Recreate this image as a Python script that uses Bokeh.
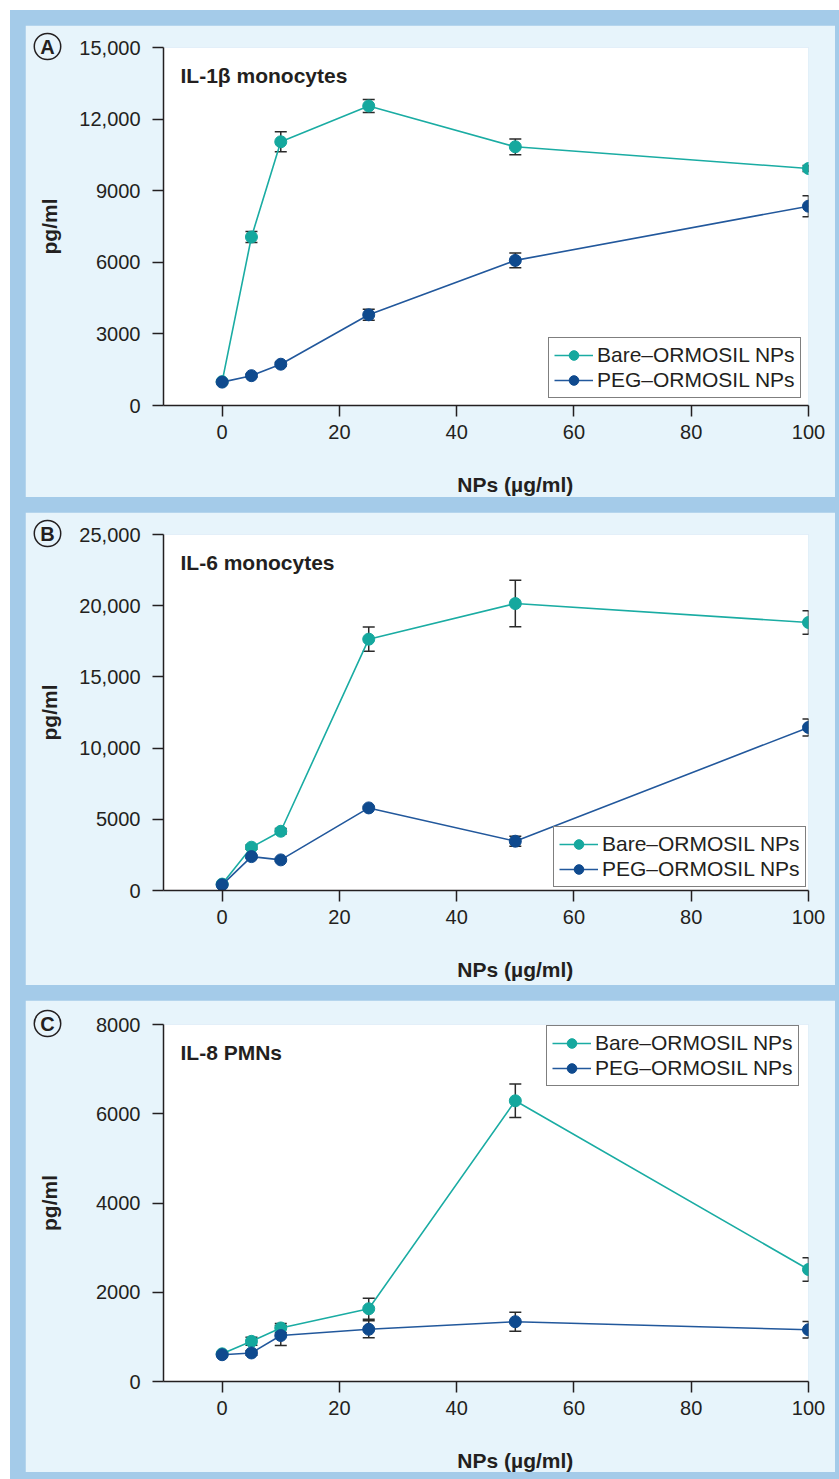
from bokeh.plotting import figure
from bokeh.models import Range1d, FixedTicker, Label, Legend, LegendItem, Whisker, ColumnDataSource, TeeHead
from bokeh.layouts import column
from bokeh.embed import file_html
from bokeh.resources import INLINE

# ---------------- data ----------------
conc = [0, 5, 10, 25, 50, 100]

il1b_bare = [1000, 7060, 11050, 12550, 10840, 9930]
il1b_bare_err = [50, 230, 420, 270, 330, 130]
il1b_peg = [980, 1250, 1730, 3800, 6080, 8350]
il1b_peg_err = [40, 60, 80, 230, 310, 440]

il6_bare = [450, 3040, 4160, 17650, 20150, 18820]
il6_bare_err = [50, 150, 200, 850, 1630, 820]
il6_peg = [400, 2380, 2150, 5800, 3460, 11450]
il6_peg_err = [50, 100, 100, 100, 350, 600]

il8_bare = [620, 900, 1200, 1630, 6290, 2510]
il8_bare_err = [30, 90, 100, 235, 375, 262]
il8_peg = [600, 640, 1030, 1170, 1340, 1160]
il8_peg_err = [30, 50, 225, 190, 213, 187]

series_names = ["Bare\u2013ORMOSIL NPs", "PEG\u2013ORMOSIL NPs"]
x_ticks = [0, 20, 40, 60, 80, 100]
il1b_ticks = [0, 3000, 6000, 9000, 12000, 15000]
il1b_tick_labels = ["0", "3000", "6000", "9000", "12,000", "15,000"]
il6_ticks = [0, 5000, 10000, 15000, 20000, 25000]
il6_tick_labels = ["0", "5000", "10,000", "15,000", "20,000", "25,000"]
il8_ticks = [0, 2000, 4000, 6000, 8000]
il8_tick_labels = ["0", "2000", "4000", "6000", "8000"]

# ---------------- style ----------------
FONT = "Liberation Sans"
TXT = "#231f20"
LIGHT = "#e7f4fb"
DARK = "#a4cbe9"
TEAL_M = "#15a89e"
TEAL_L = "#1aaca3"
BLUE_M = "#0f4a8e"
BLUE_L = "#22589c"
ERR = "#2a2a2a"

FIG_W = 810
FRAME_L = 138   # px from panel left
FRAME_R = 27
XMIN, XMAX = -10, 100
FRAME_W = FIG_W - FRAME_L - FRAME_R
TICK_FS = 20


def label_width(s, fs=TICK_FS):
    return sum(0.278 if c == "," else 0.556 for c in s) * fs


def make_panel(letter, title, height, top, bottom, ymax, yticks, ylabels,
               bare, bare_err, peg, peg_err, legend_loc):
    p = figure(width=FIG_W, height=height, x_range=Range1d(XMIN, XMAX),
               y_range=Range1d(0, ymax), output_backend="svg", toolbar_location=None,
               min_border_left=FRAME_L, min_border_right=FRAME_R,
               min_border_top=top, min_border_bottom=bottom,
               background_fill_color="white", border_fill_color=LIGHT,
               outline_line_color=None)
    p.grid.visible = False
    frame_h = height - top - bottom

    def dx(px):  # px offset from frame left -> data x
        return XMIN + px * (XMAX - XMIN) / FRAME_W

    def dy(px):  # px offset from frame bottom (up positive) -> data y
        return px * ymax / frame_h

    for ax in (p.xaxis[0], p.yaxis[0]):
        ax.axis_line_color = TXT
        ax.axis_line_width = 1.5
        ax.major_tick_line_color = TXT
        ax.major_tick_line_width = 1.5
        ax.major_tick_in = 0
        ax.major_tick_out = 11
        ax.minor_tick_line_color = None
        ax.major_label_text_font = FONT
        ax.major_label_text_font_size = f"{TICK_FS}px"
        ax.major_label_text_color = TXT
        ax.axis_label_text_font = FONT
        ax.axis_label_text_font_style = "bold"
        ax.axis_label_text_font_size = "21px"
        ax.axis_label_text_color = TXT
    p.xaxis.ticker = FixedTicker(ticks=x_ticks)
    p.xaxis.major_label_standoff = 8
    p.yaxis.ticker = FixedTicker(ticks=yticks)
    p.yaxis.major_label_overrides = {t: l for t, l in zip(yticks, ylabels)}
    p.yaxis.major_label_standoff = 12
    # y axis label placed so that its centre sits ~27 px from the panel's left edge
    wmax = max(label_width(s) for s in ylabels)
    p.yaxis.axis_label = "pg/ml"
    p.yaxis.axis_label_standoff = int(round(FRAME_L - 11 - 12 - wmax - 12 - 27))

    renderers = []
    for ys, es, lc, mc in ((bare, bare_err, TEAL_L, TEAL_M), (peg, peg_err, BLUE_L, BLUE_M)):
        src = ColumnDataSource(dict(x=conc, y=ys,
                                    lo=[a - b for a, b in zip(ys, es)],
                                    hi=[a + b for a, b in zip(ys, es)]))
        ln = p.line("x", "y", source=src, line_color=lc, line_width=1.6)
        w = Whisker(base="x", lower="lo", upper="hi", source=src,
                    line_color=ERR, line_width=1.5,
                    upper_head=TeeHead(size=12, line_color=ERR, line_width=1.5),
                    lower_head=TeeHead(size=12, line_color=ERR, line_width=1.5))
        p.add_layout(w)
        sc = p.scatter("x", "y", source=src, size=12, fill_color=mc, line_color=mc)
        renderers.append((ln, sc))

    legend = Legend(items=[LegendItem(label=series_names[i], renderers=list(renderers[i]))
                           for i in range(2)],
                    location=legend_loc, border_line_color="black", border_line_width=1,
                    background_fill_color="white", background_fill_alpha=1,
                    label_text_font=FONT, label_text_font_size="21px", label_text_color=TXT,
                    glyph_width=39, glyph_height=24, label_standoff=4, spacing=1,
                    padding=5, margin=0)
    p.add_layout(legend, "center")

    # title inside plot
    p.add_layout(Label(x=dx(17), y=dy(frame_h - 28), text=title, text_font=FONT,
                       text_font_style="bold", text_font_size="21px", text_color=TXT,
                       text_baseline="alphabetic"))
    # x axis label (side panel so it is not clipped to the frame)
    p.add_layout(Label(x=50, y=dy(-79), text="NPs (\u00b5g/ml)", text_font=FONT,
                       text_font_style="bold", text_font_size="21px", text_color=TXT,
                       text_align="center", text_baseline="alphabetic"), "below")
    # circled panel letter
    p.add_layout(Label(x=dx(-116), y=dy(frame_h + 1), text=letter, text_font=FONT,
                       text_font_style="bold", text_font_size="20px", text_color=TXT,
                       text_align="center", text_baseline="middle",
                       border_line_color=TXT, border_line_width=1.5,
                       padding=dict(left=6, right=6, top=2, bottom=2), border_radius=13),
                 "right")
    return p


pA = make_panel("A", "IL-1\u03b2 monocytes", 472, 22, 92, 15000, il1b_ticks, il1b_tick_labels,
                il1b_bare, il1b_bare_err, il1b_peg, il1b_peg_err, (385, 7))
pB = make_panel("B", "IL-6 monocytes", 473, 22, 95, 25000, il6_ticks, il6_tick_labels,
                il6_bare, il6_bare_err, il6_peg, il6_peg_err, (390, 3))
pC = make_panel("C", "IL-8 PMNs", 472, 24, 91, 8000, il8_ticks, il8_tick_labels,
                il8_bare, il8_bare_err, il8_peg, il8_peg_err, (383, 295))

layout = column(pA, pB, pC, spacing=15,
                styles={"background-color": DARK, "padding": "15px 4px 7px 15px",
                        "margin-left": "10px", "margin-top": "10px"})

open("out.html", "w").write(file_html(layout, INLINE))
